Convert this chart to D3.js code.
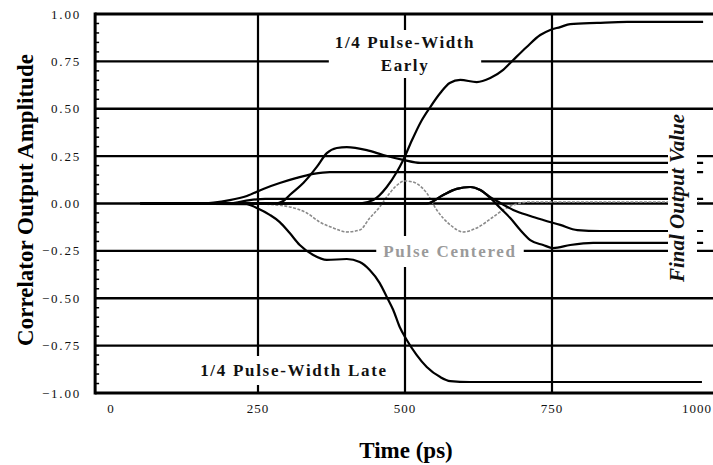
<!DOCTYPE html>
<html>
<head>
<meta charset="utf-8">
<script src="https://cdn.jsdelivr.net/npm/d3@7"></script>
<style>
  body { margin: 0; background: #fff; }
  svg { display: block; font-family: "Liberation Serif", "Times New Roman", serif; }
</style>
</head>
<body>
<svg id="chart" width="713" height="465"></svg>
<script>
// tick values
const yTicks = [-1, -0.75, -0.5, -0.25, 0, 0.25, 0.5, 0.75, 1];
const xTicks = [0, 250, 500, 750, 1000];
const xGrid = [250, 500, 750];

// correlator outputs, [time ps, amplitude]
const early = [[50, 0], [423, 0], [446, 0.018], [469, 0.087], [486, 0.166], [497, 0.23], [512, 0.335],
  [526, 0.425], [543, 0.509], [560, 0.583], [576, 0.636], [594, 0.652], [622, 0.641], [645, 0.662],
  [667, 0.705], [684, 0.757], [707, 0.826], [730, 0.889], [747, 0.916], [764, 0.931], [781, 0.947],
  [827, 0.953], [878, 0.958], [1007, 0.958]];
const late = [[50, 0], [231, -0.003], [248, -0.024], [270, -0.06], [287, -0.098], [304, -0.156],
  [321, -0.219], [344, -0.272], [367, -0.298], [401, -0.293], [423, -0.309], [440, -0.351],
  [457, -0.42], [469, -0.493], [480, -0.562], [491, -0.652], [503, -0.72], [520, -0.8],
  [537, -0.863], [560, -0.916], [577, -0.937], [610, -0.942], [1005, -0.942]];
const hump = [[50, 0], [279, 0], [293, 0.013], [304, 0.045], [327, 0.108], [350, 0.193], [367, 0.266],
  [384, 0.293], [401, 0.298], [435, 0.282], [463, 0.256], [497, 0.23], [526, 0.214], [1007, 0.214]];
const ramp = [[50, 0], [151, 0], [202, 0.018], [231, 0.04], [259, 0.077], [287, 0.108], [316, 0.135],
  [344, 0.156], [372, 0.166], [1007, 0.166]];
const small = [[50, 0], [202, 0], [236, 0.018], [262, 0.024], [1007, 0.024]];
const lateDip = [[50, 0], [537, 0], [565, 0.045], [588, 0.077], [611, 0.087], [628, 0.071], [645, 0.029],
  [662, -0.024], [679, -0.077], [696, -0.14], [713, -0.193], [735, -0.219], [752, -0.235],
  [781, -0.219], [820, -0.208], [1007, -0.208]];
const lateSlow = [[50, 0], [537, 0], [565, 0.045], [588, 0.077], [611, 0.087], [628, 0.071], [645, 0.034],
  [662, 0.003], [684, -0.034], [713, -0.066], [735, -0.087], [764, -0.113], [793, -0.14],
  [832, -0.145], [1007, -0.145]];
const centered = [[50, 0], [236, 0], [259, -0.003], [304, -0.018], [333, -0.05], [355, -0.098],
  [378, -0.129], [401, -0.15], [423, -0.14], [440, -0.077], [457, -0.018], [469, 0.034], [483, 0.087],
  [500, 0.119], [514, 0.113], [537, 0.055], [554, -0.034], [577, -0.113], [599, -0.15], [622, -0.129],
  [650, -0.071], [667, -0.034], [684, -0.008], [713, 0.008], [1000, 0.008]];

const blackCurves = [early, late, hump, ramp, small, lateDip, lateSlow];

const svg = d3.select("#chart");
const x = d3.scaleLinear().domain([0, 1000]).range([111, 699]);
const y = d3.scaleLinear().domain([-1, 1]).range([393, 14]);
const xLeft = x(-27), xRight = x(1030);

svg.append("rect").attr("width", 713).attr("height", 465).attr("fill", "#fff");

// grid lines
svg.append("g").selectAll("line")
  .data(yTicks.slice(1, -1)).enter().append("line")
  .attr("x1", xLeft).attr("x2", xRight)
  .attr("y1", d => y(d)).attr("y2", d => y(d))
  .attr("stroke", "#000").attr("stroke-width", 2.4);
svg.append("g").selectAll("line")
  .data(xGrid).enter().append("line")
  .attr("x1", d => x(d)).attr("x2", d => x(d))
  .attr("y1", y(1)).attr("y2", y(-1))
  .attr("stroke", "#000").attr("stroke-width", 2.2);

// labels with white boxes that cut the grid
function boxedText(g, pad) {
  const b = g.node().getBBox();
  g.insert("rect", ":first-child")
    .attr("x", b.x - pad[0]).attr("y", b.y - pad[1])
    .attr("width", b.width + 2 * pad[0]).attr("height", b.height + 2 * pad[1])
    .attr("fill", "#fff");
}

let gEarly = svg.append("g");
gEarly.append("text").attr("x", 405).attr("y", 48).text("1/4 Pulse-Width");
gEarly.append("text").attr("x", 405).attr("y", 71).text("Early");
gEarly.selectAll("text").attr("text-anchor", "middle").attr("font-size", 17)
  .attr("font-weight", "bold").attr("letter-spacing", 1.6).attr("fill", "#111");
boxedText(gEarly, [6, 3]);

let gLate = svg.append("g");
gLate.append("text").attr("x", 294).attr("y", 376).text("1/4 Pulse-Width Late")
  .attr("text-anchor", "middle").attr("font-size", 17)
  .attr("font-weight", "bold").attr("letter-spacing", 1.7).attr("fill", "#111");
boxedText(gLate, [6, 5]);

let gCent = svg.append("g");
gCent.append("text").attr("x", 450).attr("y", 257).text("Pulse Centered")
  .attr("text-anchor", "middle").attr("font-size", 17)
  .attr("font-weight", "bold").attr("letter-spacing", 1.7).attr("fill", "#9a9a9a");
boxedText(gCent, [7, 6]);

// curves
const line = d3.line().x(d => x(d[0])).y(d => y(d[1])).curve(d3.curveMonotoneX);

svg.append("path").datum(centered).attr("d", line)
  .attr("fill", "none").attr("stroke", "#8a8a8a").attr("stroke-width", 1.6)
  .attr("stroke-dasharray", "3,1.5");

svg.append("g").selectAll("path")
  .data(blackCurves).enter().append("path")
  .attr("d", line)
  .attr("fill", "none").attr("stroke", "#000").attr("stroke-width", 2.2);

// final output value label
let gFinal = svg.append("g").attr("transform", "translate(684,198) rotate(-90)");
gFinal.append("text").attr("x", 0).attr("y", 0).text("Final Output Value")
  .attr("text-anchor", "middle").attr("font-size", 21)
  .attr("font-weight", "bold").attr("font-style", "italic").attr("fill", "#111");
let bf = gFinal.node().getBBox();
gFinal.insert("rect", ":first-child")
  .attr("x", bf.x - 3).attr("y", -16).attr("width", bf.width + 6).attr("height", 29)
  .attr("fill", "#fff");

// frame
svg.append("line").attr("x1", xLeft).attr("x2", xRight).attr("y1", y(1)).attr("y2", y(1))
  .attr("stroke", "#000").attr("stroke-width", 2.8);
svg.append("line").attr("x1", xLeft).attr("x2", xRight).attr("y1", y(-1)).attr("y2", y(-1))
  .attr("stroke", "#000").attr("stroke-width", 3);
svg.append("line").attr("x1", xLeft).attr("x2", xLeft).attr("y1", y(1) - 1.5).attr("y2", y(-1) + 1.5)
  .attr("stroke", "#000").attr("stroke-width", 3);

// minor ticks on the left axis
svg.append("g").selectAll("line")
  .data(d3.range(-1, 1.001, 0.05)).enter().append("line")
  .attr("x1", xLeft).attr("x2", xLeft + 4)
  .attr("y1", d => y(d)).attr("y2", d => y(d))
  .attr("stroke", "#000").attr("stroke-width", 1.5);

// tick labels
svg.append("g").selectAll("text")
  .data(yTicks).enter().append("text")
  .attr("x", 81).attr("y", d => y(d) + 4.5)
  .attr("text-anchor", "end").attr("font-size", 13).attr("letter-spacing", 1.8)
  .attr("fill", "#111")
  .text(d => d3.format(".2f")(d));

svg.append("g").selectAll("text")
  .data(xTicks).enter().append("text")
  .attr("x", d => Math.min(x(d), 697)).attr("y", 413)
  .attr("text-anchor", "middle").attr("font-size", 13).attr("letter-spacing", 1)
  .attr("fill", "#111")
  .text(d => d);

// axis titles
svg.append("text").attr("transform", "translate(33,200) rotate(-90)")
  .attr("text-anchor", "middle").attr("font-size", 23).attr("font-weight", "bold")
  .text("Correlator Output Amplitude");
svg.append("text").attr("x", 406).attr("y", 458)
  .attr("text-anchor", "middle").attr("font-size", 23).attr("font-weight", "bold")
  .text("Time (ps)");
</script>
</body>
</html>
